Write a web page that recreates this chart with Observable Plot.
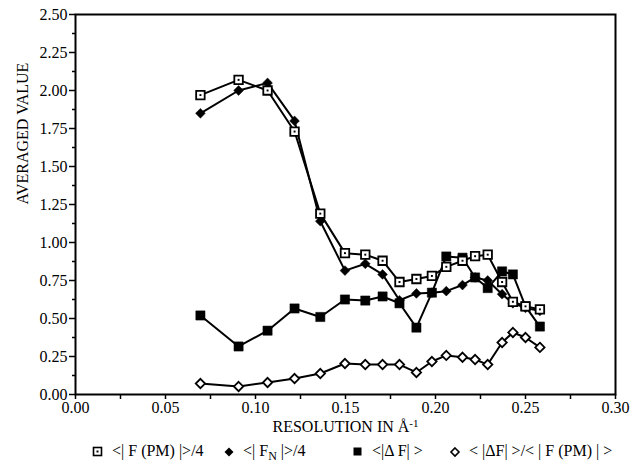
<!DOCTYPE html>
<html>
<head>
<meta charset="utf-8">
<script src="https://cdn.jsdelivr.net/npm/d3@7"></script>
<script src="https://cdn.jsdelivr.net/npm/@observablehq/plot@0.6"></script>
<style>
  html, body { margin: 0; padding: 0; background: white; }
  #wrap { position: relative; width: 636px; height: 469px; font-family: "Liberation Serif", serif; color: black; }
  #legend { position: absolute; left: 0; top: 438px; width: 636px; height: 31px; font-size: 16px; }
  #legend .item { position: absolute; top: 3px; white-space: nowrap; line-height: 20px; }
  #legend svg { vertical-align: middle; }
</style>
</head>
<body>
<div id="wrap">
  <div id="chart"></div>
  <div id="legend"></div>
</div>
<script>
// Resolution bins (1/Å)
const resolution = [0.0694, 0.0906, 0.1067, 0.1217, 0.136, 0.1497, 0.161, 0.1706, 0.18, 0.1894, 0.198, 0.206, 0.215, 0.222, 0.229, 0.237, 0.243, 0.25, 0.258];
// <|F(PM)|>/4  (open square with dot)
const fpm = [1.97, 2.07, 2.00, 1.73, 1.19, 0.93, 0.92, 0.88, 0.74, 0.76, 0.78, 0.84, 0.88, 0.91, 0.92, 0.74, 0.61, 0.58, 0.56];
// <|F_N|>/4  (filled diamond)
const fn = [1.85, 2.00, 2.05, 1.80, 1.14, 0.815, 0.86, 0.79, 0.62, 0.665, 0.67, 0.68, 0.72, 0.77, 0.75, 0.66, 0.60, 0.57, 0.55];
// <|ΔF|>  (filled square)
const dF = [0.52, 0.316, 0.42, 0.566, 0.51, 0.625, 0.618, 0.645, 0.60, 0.44, 0.67, 0.908, 0.90, 0.77, 0.70, 0.81, 0.79, 0.58, 0.447];
// <|ΔF|>/<|F(PM)|>  (open diamond)
const ratio = [0.072, 0.053, 0.079, 0.105, 0.138, 0.204, 0.197, 0.197, 0.197, 0.145, 0.217, 0.257, 0.245, 0.23, 0.197, 0.342, 0.408, 0.375, 0.31];

const xTicks = [0, 0.05, 0.10, 0.15, 0.20, 0.25, 0.30];
const xMinor = [0.025, 0.075, 0.125, 0.175, 0.225, 0.275];
const yTicks = [0, 0.25, 0.5, 0.75, 1.0, 1.25, 1.5, 1.75, 2.0, 2.25, 2.5];
const yMinor = [0.125, 0.375, 0.625, 0.875, 1.125, 1.375, 1.625, 1.875, 2.125, 2.375];

const rows = vals => resolution.map((x, i) => ({x, y: vals[i]}));
const sFpm = rows(fpm), sFn = rows(fn), sDF = rows(dF), sRatio = rows(ratio);

const lineOpts = {x: "x", y: "y", stroke: "black", strokeWidth: 2};

const chart = Plot.plot({
  width: 636,
  height: 440,
  marginLeft: 75,
  marginRight: 21,
  marginTop: 14,
  marginBottom: 46,
  x: {domain: [0, 0.3]},
  y: {domain: [0, 2.5]},
  style: {fontFamily: "'Liberation Serif', serif", fontSize: "16px", color: "black", background: "white"},
  marks: [
    Plot.axisX(xTicks, {tickSize: 5, tickPadding: 2, tickFormat: d3.format(".2f"), label: null, strokeWidth: 1.5}),
    Plot.axisX(xMinor, {tickSize: 5, tickFormat: () => "", label: null, strokeWidth: 1.5}),
    Plot.axisY(yTicks, {tickSize: 6, tickPadding: 2, tickFormat: d3.format(".2f"), label: null, strokeWidth: 1.5}),
    Plot.axisY(yMinor, {tickSize: 3, tickFormat: () => "", label: null, strokeWidth: 1.5}),
    Plot.frame({stroke: "black", strokeWidth: 2}),
    Plot.line(sDF, lineOpts),
    Plot.line(sRatio, lineOpts),
    Plot.line(sFn, lineOpts),
    Plot.line(sFpm, lineOpts),
    Plot.dot(sDF, {x: "x", y: "y", symbol: "square", r: 5.2, fill: "black", stroke: "black", strokeWidth: 0.5}),
    Plot.dot(sRatio, {x: "x", y: "y", symbol: "diamond2", r: 4.2, fill: "white", stroke: "black", strokeWidth: 1.8}),
    Plot.dot(sFn, {x: "x", y: "y", symbol: "diamond2", r: 4.4, fill: "black", stroke: "black", strokeWidth: 0.5}),
    Plot.dot(sFpm, {x: "x", y: "y", symbol: "square", r: 4.8, fill: "white", stroke: "black", strokeWidth: 1.8}),
    Plot.dot(sFpm, {x: "x", y: "y", symbol: "square", r: 1.1, fill: "black"}),
    Plot.text(["AVERAGED VALUE"], {frameAnchor: "left", dx: -53, rotate: -90, fontSize: 16}),
    Plot.text(["RESOLUTION IN Å"], {frameAnchor: "bottom", dy: 37, fontSize: 16, className: "xlab"})
  ]
});
document.getElementById("chart").appendChild(chart);

// add superscript to x-axis label
const xl = chart.querySelector(".xlab text");
if (xl) {
  d3.select(xl).append("tspan").attr("dy", "-0.4em").attr("font-size", "11px").text("-1");
}

// legend
const legendItems = [
  {left: 92, sym: "opensq", html: "&lt;| F (PM) |&gt;/4"},
  {left: 223, sym: "filldia", html: "&lt;| F<sub style='font-size:12px;vertical-align:-4px'>N</sub> |&gt;/4"},
  {left: 352, sym: "fillsq", html: "&lt;|&Delta; F| &gt;"},
  {left: 449, sym: "opendia", html: "&lt; |&Delta;F| &gt;/&lt; | F (PM) | &gt;"}
];
const symSvg = {
  opensq: "<svg width='12' height='12'><rect x='1.5' y='1.5' width='8' height='8' fill='white' stroke='black' stroke-width='1.6'/><rect x='4.5' y='4.5' width='2' height='2' fill='black'/></svg>",
  filldia: "<svg width='12' height='12'><path d='M6,1.5L10.5,6L6,10.5L1.5,6Z' fill='black'/></svg>",
  fillsq: "<svg width='12' height='12'><rect x='1.5' y='1.5' width='8' height='8' fill='black'/></svg>",
  opendia: "<svg width='12' height='12'><path d='M6,2L10,6L6,10L2,6Z' fill='white' stroke='black' stroke-width='1.6'/></svg>"
};
const leg = document.getElementById("legend");
for (const it of legendItems) {
  const d = document.createElement("div");
  d.className = "item";
  d.style.left = it.left + "px";
  d.innerHTML = symSvg[it.sym] + "&nbsp;&nbsp;" + it.html;
  leg.appendChild(d);
}
</script>
</body>
</html>
